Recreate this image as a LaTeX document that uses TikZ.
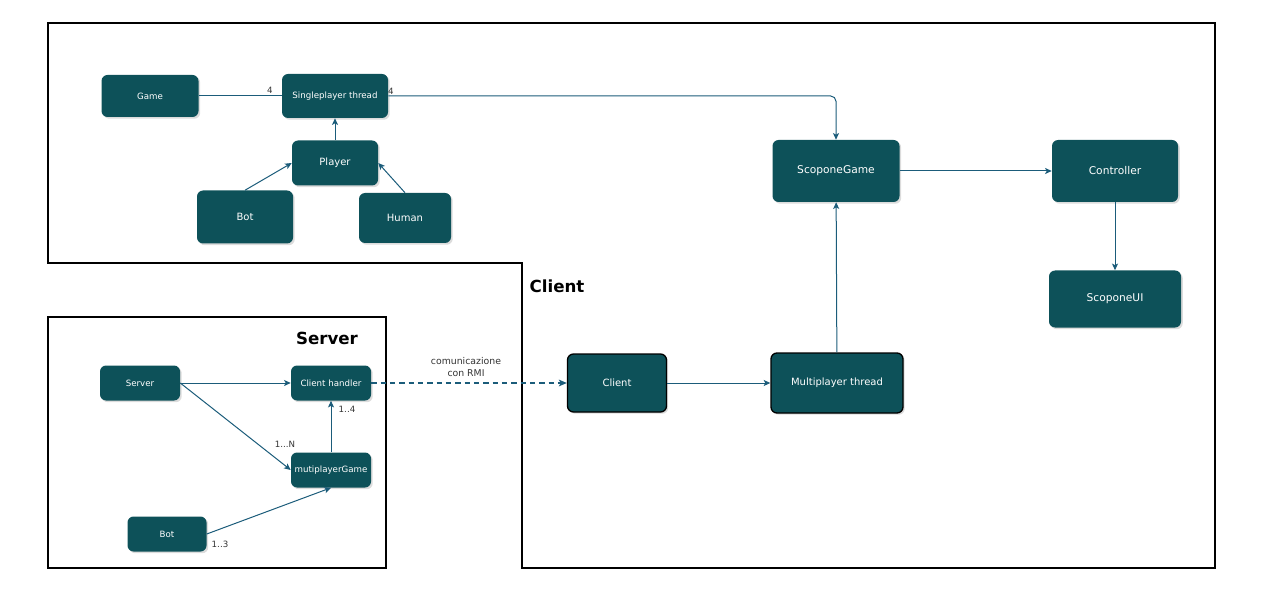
\documentclass[tikz,border=0pt]{standalone}
\usepackage{fontspec}
\setmainfont{DejaVu Sans}
\usetikzlibrary{arrows.meta,shadows}
\definecolor{nodefill}{HTML}{0D5159}
\definecolor{edgecol}{HTML}{1B5C7A}
\definecolor{lblcol}{HTML}{333333}
\begin{document}
\begin{tikzpicture}[x=0.75pt,y=-0.75pt,
  box/.style={rectangle, rounded corners=4.5pt, fill=nodefill, text=white, inner sep=0pt, align=center,
    drop shadow={shadow xshift=1.3pt,shadow yshift=-1.3pt,opacity=0.28,fill=gray}},
  sz/.style 2 args={minimum width=#1*0.75pt, minimum height=#2*0.75pt},
  fs/.style={font=\fontsize{6.5pt}{8pt}\selectfont},
  fm/.style={font=\fontsize{7.5pt}{9pt}\selectfont},
  fl/.style={font=\fontsize{8pt}{10pt}\selectfont},
  strong/.style={draw=black, line width=1pt},
  conn/.style={draw=edgecol, line width=0.75pt},
  arr/.style={conn, -{Stealth[length=5pt,width=4.5pt,inset=1.2pt]}},
  lbl/.style={text=lblcol, font=\fontsize{6.5pt}{8pt}\selectfont, inner sep=0pt},
  region/.style={draw=black, line width=1pt},
  title/.style={font=\bfseries\fontsize{12.5pt}{15pt}\selectfont, inner sep=0pt}
]
\useasboundingbox (0,0) rectangle (1280,609);

% regions
\draw[region] (48,23) -- (1215,23) -- (1215,568) -- (522,568) -- (522,263) -- (48,263) -- cycle;
\draw[region] (48,317) rectangle (386,568);
\node[title] (tclient) at (557,286) {Client};
\node[title] (tserver) at (327,338) {Server};

% top single player part
\node[box, sz={97}{42}, fs] (game) at (150,96) {Game};
\node[box, sz={106}{44}, fs] (sp) at (335,96) {Singleplayer thread};
\node[box, sz={86}{45}, fm] (player) at (335,163) {Player};
\node[box, sz={96}{53}, fm] (bot1) at (245,217) {Bot};
\node[box, sz={92}{50}, fm] (human) at (405,218) {Human};

% right part
\node[box, sz={127}{62}, fl] (sg) at (836,171) {ScoponeGame};
\node[box, sz={126}{62}, fl] (ctrl) at (1115,171) {Controller};
\node[box, sz={132}{57}, fl] (ui) at (1115,299) {ScoponeUI};
\node[box, strong, sz={99}{58}, fm] (client) at (617,383) {Client};
\node[box, strong, sz={132}{60}, fm] (mt) at (837,383) {Multiplayer thread};

% server part
\node[box, sz={80}{35}, fs] (server) at (140,383) {Server};
\node[box, sz={80}{35}, fs] (ch) at (331,383) {Client handler};
\node[box, sz={80}{35}, fs] (mg) at (331,470) {mutiplayerGame};
\node[box, sz={79}{35}, fs] (bot2) at (167,534) {Bot};

% connectors
\draw[conn] (game) -- (sp);
\node[lbl] (l4a) at (270,90) {4};
\draw[arr, rounded corners=4pt] (sp.east) -- (sp.east -| sg.north) -- (sg.north);
\node[lbl] (l4b) at (391,91) {4};
\draw[arr] (player) -- (sp);
\draw[arr] (bot1.north) -- (player.west);
\draw[arr] (human.north) -- (player.east);
\draw[arr] (sg) -- (ctrl);
\draw[arr] (ctrl) -- (ui);
\draw[arr] (mt) -- (sg);
\draw[arr] (client) -- (mt);
\draw[conn, line width=1.2pt, dash pattern=on 4pt off 3pt, -{Stealth[length=6pt,width=5pt,inset=1.5pt]}] (ch) -- (client);
\node[text=lblcol, font=\fontsize{7pt}{8.5pt}\selectfont, align=center, inner sep=0pt] (rmi) at (466,367) {comunicazione\\con RMI};
\draw[arr] (server) -- (ch);
\draw[arr] (server.east) -- (mg.west);
\node[lbl] (l1n) at (285,444) {1...N};
\draw[arr] (mg) -- (ch);
\node[lbl] (l14) at (347,409) {1..4};
\draw[arr] (bot2.east) -- (mg.south);
\node[lbl] (l13) at (220,544) {1..3};
\end{tikzpicture}
\end{document}
